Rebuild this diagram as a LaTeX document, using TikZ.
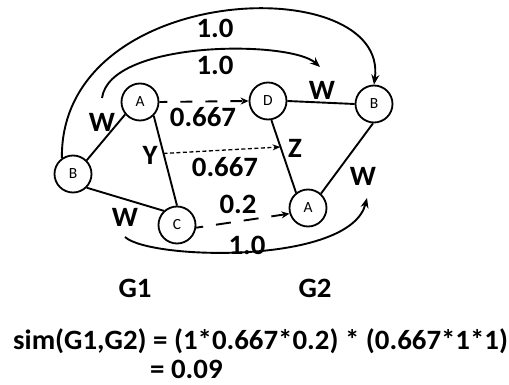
\documentclass[tikz,border=0pt]{standalone}
\usepackage{fontspec}
\setmainfont{Carlito}
\newfontfamily\lblfont[FakeStretch=1.03]{Carlito}
\usetikzlibrary{arrows.meta,calc}
\begin{document}
\begin{tikzpicture}[x=1pt,y=-1pt,
  vert/.style={circle,draw,line width=1.8pt,minimum size=37pt,inner sep=0pt,font=\fontsize{15.5}{16}\selectfont},
  edge/.style={line width=1.9pt},
  lbl/.style={font=\lblfont\fontsize{28}{30}\selectfont\bfseries,inner sep=0pt},
  arr/.style={-{Stealth[length=10pt,width=8pt]}},
  smallarr/.style={-{Stealth[length=8pt,width=7pt]}},
]
\useasboundingbox (0,0) rectangle (509,385);
% vertices
\node[vert] (a1) at (140,102) {A};
\node[vert] (b1) at (73,174) {B};
\node[vert] (c1) at (177,225) {C};
\node[vert] (d2) at (268,101) {D};
\node[vert] (b2) at (374,104) {B};
\node[vert] (a2) at (308,208) {A};
% graph edges
\draw[edge] (a1.220) -- (b1.45);
\draw[edge] (a1.-45) -- (c1.north);
\draw[edge] (b1.-45) -- (c1.133);
\draw[edge] (d2.east) -- (b2.west);
\draw[edge] (d2.-80) -- (a2.128);
\draw[edge] (a2.48) -- (b2.-93);
% mappings
\draw[edge,dash pattern=on 12pt off 13pt,dash phase=4pt,smallarr] (a1.east) -- (d2.west);
\draw[edge,dash pattern=on 15pt off 13pt,dash phase=8pt,smallarr] (c1.-8) -- (a2.197);
\coordinate (ys) at ($(a1.-45)!0.42!(c1.north)$);
\coordinate (ye) at ($(d2.-80)!0.37!(a2.128)$);
\draw[line width=1.3pt,dash pattern=on 4pt off 2.5pt,-{Stealth[length=8pt,width=6pt]}] (ys) -- (ye);
% curved arrows
\coordinate (s1) at (102,98);
\coordinate (e1) at (320,67);
\coordinate (s2) at (125,237);
\coordinate (e2) at (367,198);
\draw[edge,arr] (b1.125) .. controls (60,-20) and (390,-30) .. (b2.north);
\draw[edge,arr] (s1) .. controls (110,40) and (290,40) .. (e1);
\draw[edge,arr] (s2) .. controls (150,260) and (350,265) .. (e2);
% labels
\node[lbl] (l10a) at (215,28.5) {1.0};
\node[lbl] (l10b) at (215,65) {1.0};
\node[lbl] (w1) at (102,122) {W};
\node[lbl] (p1) at (203,117) {0.667};
\node[lbl] (w2) at (322,90) {W};
\node[lbl] (ly) at (150,155) {Y};
\node[lbl] (lz) at (295,148) {Z};
\node[lbl] (p2) at (225,167) {0.667};
\node[lbl] (w3) at (363,176) {W};
\node[lbl] (w4) at (125,217) {W};
\node[lbl] (p3) at (238,204) {0.2};
\node[lbl] (l10c) at (247,245) {1.0};
\node[lbl] (g1) at (135,288) {G1};
\node[lbl] (g2) at (315,288) {G2};
\node[lbl,anchor=base west] (sim) at (13,349) {sim(G1,G2) = (1*0.667*0.2) * (0.667*1*1)};
\node[lbl,anchor=base west] (res) at (150,378) {= 0.09};
\end{tikzpicture}
\end{document}
